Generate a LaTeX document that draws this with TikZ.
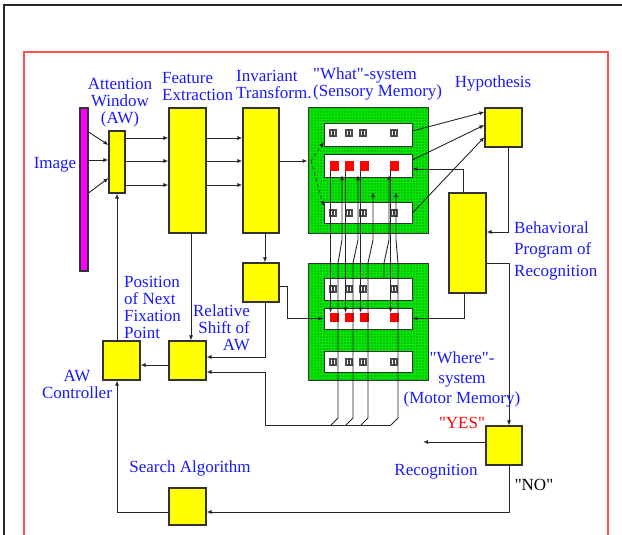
\documentclass[tikz,border=0pt]{standalone}
\usepackage{fontspec}
\setmainfont{Liberation Serif}
\usetikzlibrary{arrows.meta,patterns.meta}

\definecolor{boxyellow}{RGB}{255,255,0}
\definecolor{memgreen}{RGB}{0,235,0}
\definecolor{imgmagenta}{RGB}{255,0,255}
\definecolor{labelblue}{RGB}{25,25,255}
\definecolor{framered}{RGB}{255,80,80}
\newcommand{\qt}{\textquotedbl}

\begin{document}
\begin{tikzpicture}[
    x=1pt, y=-1pt,
    block/.style={
        rectangle,
        draw=black!80,
        fill=boxyellow,
        line width=1.1pt,
        inner sep=0pt
    },
    memory/.style={
        rectangle,
        draw=black!80,
        fill=memgreen,
        line width=1pt,
        minimum width=120,
        inner sep=0pt,
        postaction={pattern={Dots[distance=3pt,radius=0.6pt]}, pattern color=black!75}
    },
    row/.style={
        rectangle,
        draw=black!80,
        fill=white,
        minimum width=88,
        line width=0.8pt,
        inner sep=0pt
    },
    cell/.style={
        rectangle,
        fill=red,
        minimum size=9.5,
        inner sep=0pt
    },
    feat/.style={
        rectangle,
        fill=black!70,
        minimum size=7.5,
        inner sep=0pt,
        path picture={
            \fill[white] ([shift={(-2,-2)}]path picture bounding box.center) rectangle ([shift={(2,2)}]path picture bounding box.center);
            \draw[black!75, line width=1.1pt] (path picture bounding box.north) -- (path picture bounding box.south);
        }
    },
    label/.style={
        font=\fontsize{17}{17}\selectfont,
        text=labelblue,
        inner sep=0pt,
        align=center
    },
    arr/.style={
        -{Latex[length=5pt,width=4pt]},
        line width=0.9pt,
        black!85
    }
]
\useasboundingbox (0,0) rectangle (622,535);

% Frames
\draw[line width=1.5pt, black!85] (4,535) -- (4,5) -- (622,5);
\draw[framered, line width=1.2pt] (24,535) -- (24,52) -- (608,52) -- (608,535);

% Processing blocks
\node[block, fill=imgmagenta, minimum width=8, minimum height=163] (img) at (84,189.5) {};
\node[block, minimum width=16, minimum height=62] (aw) at (117,162) {};
\node[block, minimum width=37, minimum height=125] (fe) at (187.5,170.5) {};
\node[block, minimum width=36, minimum height=125] (it) at (261,170.5) {};
\node[block, minimum width=37, minimum height=39] (hyp) at (503.5,127.5) {};
\node[block, minimum width=37, minimum height=100] (bp) at (467.5,243) {};
\node[block, minimum width=36, minimum height=39] (sh) at (261,282.5) {};
\node[block, minimum width=37, minimum height=39] (rel) at (187.5,360.5) {};
\node[block, minimum width=37, minimum height=39] (ctrl) at (121.5,360.5) {};
\node[block, minimum width=37, minimum height=37] (search) at (187.5,506.5) {};
\node[block, minimum width=36, minimum height=39] (rec) at (504,445.5) {};

% Memories
\node[memory, minimum height=125] (what) at (368,170.5) {};
\node[memory, minimum height=117] (where) at (368,321.5) {};
\node[row, minimum height=23] (wt1) at (368,134.5) {};
\node[row, minimum height=23] (wt2) at (368,165.5) {};
\node[row, minimum height=21] (wt3) at (368,212.5) {};
\node[row, minimum height=22] (wr1) at (368,289) {};
\node[row, minimum height=21] (wr2) at (368,318.5) {};
\node[row, minimum height=21] (wr3) at (368,361.5) {};

% Memory cells
\foreach \x [count=\i] in {334.5,349.5,364.5,394.5} {
    \node[cell] (tc\i) at (\x,166) {};
    \node[cell] (mc\i) at (\x,317.5) {};
}
\foreach \x [count=\i] in {333,349,363,394} {
    \node[feat] (fa\i) at (\x,133) {};
    \node[feat] (fb\i) at (\x,213) {};
    \node[feat] (fc\i) at (\x,289) {};
    \node[feat] (fd\i) at (\x,362) {};
}

% Image to attention window
\draw[arr] (img.east |- 0,132) -- (aw.west |- 0,145);
\draw[arr] (img.east |- 0,160) -- (aw.west |- 0,160);
\draw[arr] (img.east |- 0,193) -- (aw.west |- 0,178);

% Parallel channels
\foreach \y in {138,161,185} {
    \draw[arr] (aw.east |- 0,\y) -- (fe.west |- 0,\y);
    \draw[arr] (fe.east |- 0,\y) -- (it.west |- 0,\y);
}
\draw[arr] (it.east |- 0,161) -- (what.west |- 0,161);
\coordinate (fan) at (311,161);
\draw[arr, dashed, line width=0.6pt] (fan) -- (wt1.west |- 0,142);
\draw[arr, dashed, line width=0.6pt] (fan) -- (wt3.west |- 0,206);

% Hypothesis
\draw[arr] (wt1.east |- 0,131) -- (hyp.west |- 0,112);
\draw[arr] (wt2.east |- 0,160) -- (hyp.west |- 0,125);
\draw[arr] (wt3.east |- 0,213) -- (hyp.west |- 0,137);

% Behavioral program
\draw[arr] (hyp.south -| 508,0) |- (bp.east |- 0,232);
\draw[arr] (bp.north -| 463,0) |- (wt2.east |- 0,169);
\draw[arr] (bp.south -| 464,0) |- (wr2.east);
\draw[arr] (bp.east |- 0,263) -| (rec.north -| 509,0);

% Recognition outputs
\coordinate (yes) at (423,442);
\draw[arr] (rec.west |- yes) -- (yes);
\draw[arr] (rec.south -| 509,0) |- (search.east |- 0,512);
\draw[arr] (search.west |- 0,512) -| (ctrl.south -| aw.south);

% Shift computation
\draw[arr] (it.south -| 265,0) -- (sh.north -| 265,0);
\draw[arr] (sh.east |- 0,286) -- ++(8,0) |- (wr2.west);
\draw[arr] (sh.south -| 265,0) |- (rel.east |- 0,357);
\draw[arr] (fe.south -| 191,0) -- (rel.north -| 191,0);
\draw[arr] (rel.west |- 0,365) -- (ctrl.east |- 0,365);
\draw[arr] (ctrl.north -| aw.south) -- (aw.south);

% What <-> where links
\foreach \i in {1,...,4}
    \draw[arr] ([xshift=1]tc\i.south west) -- ([xshift=1]mc\i.north west);
\coordinate (bus) at (391,425);
\draw[arr] (bus) -- (bus -| 265,0) |- (rel.east |- 0,372);
\foreach \x/\t/\e in {338/342/175, 353/358/175, 368/373/192, 398/396/192}
    \draw[arr] (\x-7,425) -- (\x,418) -- (\x,263) -- (\t,240) -- (\t,\e);
\draw[arr] (wr1.north -| 384,0) -- (384,263) -- (389,240) -- (389,175);

% Labels
\node[label] (lblimage) at (55,165) {Image};
\node[label] (lblaw) at (120,102.5) {Attention\\Window\\(AW)};
\node[label, align=left, anchor=west] (lblfe) at (162,86.5) {Feature\\Extraction};
\node[label, align=left, anchor=west] (lblit) at (236,84) {Invariant\\Transform.};
\node[label, align=left, anchor=west] (lblwhat) at (313,84) {\qt What\qt-system\\(Sensory Memory)};
\node[label] (lblhyp) at (493,83) {Hypothesis};
\node[label, align=left, anchor=west, font=\fontsize{17}{21.5}\selectfont] (lblbp) at (514,250.5) {Behavioral\\Program of\\Recognition};
\node[label, font=\fontsize{17}{20}\selectfont] (lblwhere) at (462,379.5) {\qt Where\qt-\\system\\(Motor Memory)};
\node[label, text=red] (lblyes) at (462,423) {\qt YES\qt};
\node[label] (lblrec) at (436,472) {Recognition};
\node[label, text=black] (lblno) at (534,485) {\qt NO\qt};
\node[label] (lblsearch) at (190,468) {Search Algorithm};
\node[label, align=left, anchor=west] (lblpos) at (124,307) {Position\\of Next\\Fixation\\Point};
\node[label, align=right, anchor=east] (lblrel) at (250,328) {Relative\\Shift of\\AW};
\node[label] (lblctrl) at (77,384.5) {AW\\Controller};

\end{tikzpicture}
\end{document}
